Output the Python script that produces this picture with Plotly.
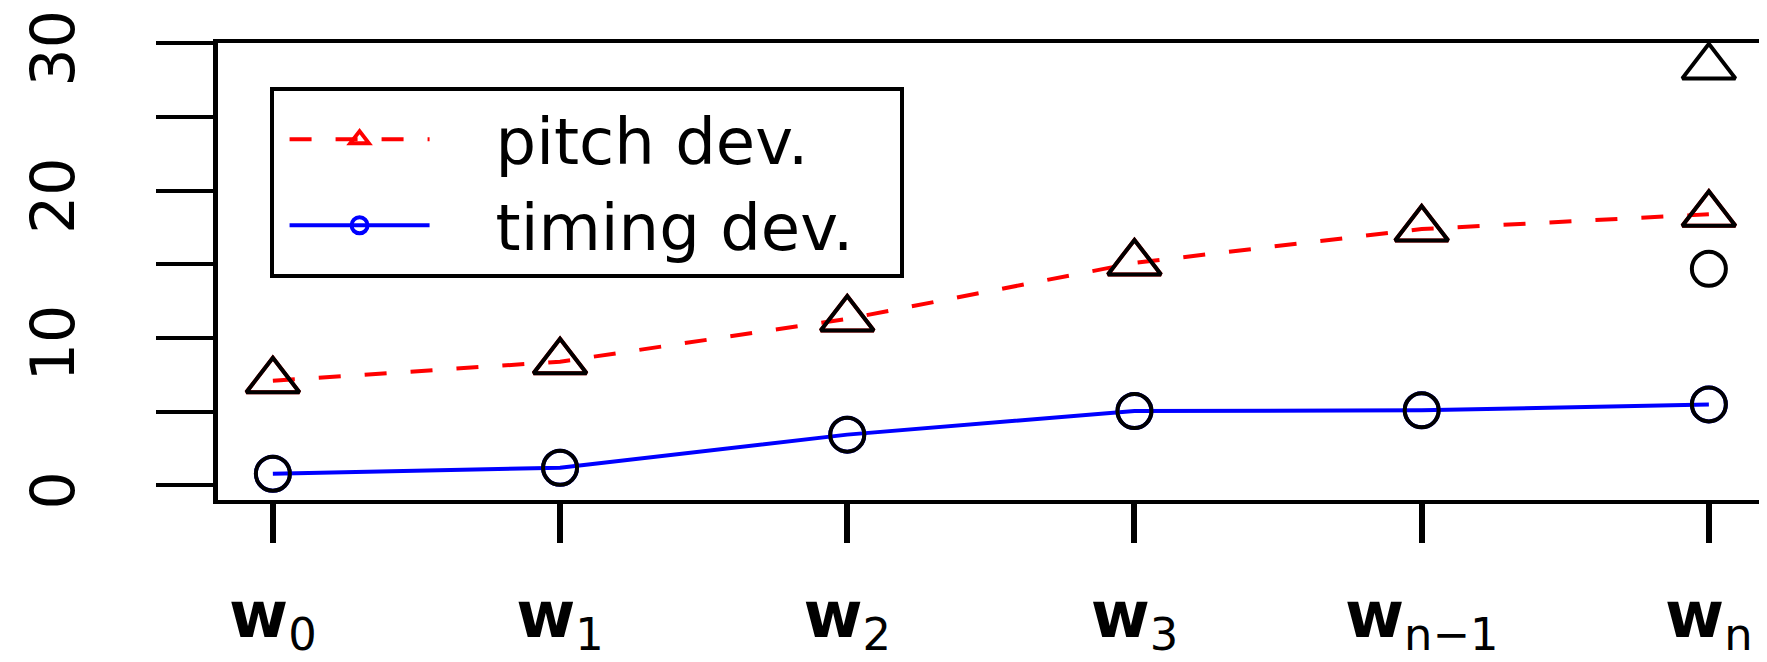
import plotly.graph_objects as go

# ---- data ----
categories = ["<b>w</b><sub>0</sub>", "<b>w</b><sub>1</sub>", "<b>w</b><sub>2</sub>",
              "<b>w</b><sub>3</sub>", "<b>w</b><sub>n\u22121</sub>", "<b>w</b><sub>n</sub>"]
pitch_dev = [7.1, 8.4, 11.3, 15.1, 17.4, 18.4]
timing_dev = [0.8, 1.2, 3.45, 5.05, 5.1, 5.5]
extra_category = ["<b>w</b><sub>n</sub>"]
pitch_extra = [28.4]
timing_extra = [14.7]
y_label_values = [0, 10, 20, 30]
y_label_text = ["0", "10", "20", "30"]
y_minor_values = [5, 15, 25]

FONT = "DejaVu Sans"
NB = "\u00a0"
x_pos = list(range(len(categories)))
x_extra = [categories.index(c) for c in extra_category]

TRI = 46
CIR = 34

fig = go.Figure()

# coloured series (these also provide the legend entries)
fig.add_trace(go.Scatter(
    x=x_pos, y=pitch_dev, name=NB * 3 + "pitch dev." + NB * 2, mode="lines+markers",
    line=dict(color="#FF0000", width=4, dash="22px,24px"),
    marker=dict(symbol="triangle-up-open", size=TRI, color="#FF0000", line=dict(width=4)),
))
fig.add_trace(go.Scatter(
    x=x_pos, y=timing_dev, name=NB * 3 + "timing dev." + NB * 2, mode="lines+markers",
    line=dict(color="#0000FF", width=4),
    marker=dict(symbol="circle-open", size=CIR, color="#0000FF", line=dict(width=4)),
))
# black point symbols drawn on top of the coloured ones
fig.add_trace(go.Scatter(
    x=x_pos + x_extra, y=pitch_dev + pitch_extra, mode="markers", showlegend=False,
    marker=dict(symbol="triangle-up-open", size=TRI, color="black", line=dict(width=4)),
))
fig.add_trace(go.Scatter(
    x=x_pos + x_extra, y=timing_dev + timing_extra, mode="markers", showlegend=False,
    marker=dict(symbol="circle-open", size=CIR, color="black", line=dict(width=4)),
))

fig.update_layout(
    width=1759, height=654,
    margin=dict(l=210, r=5, t=35, b=162, pad=0, autoexpand=False),
    paper_bgcolor="white", plot_bgcolor="white",
    font=dict(family=FONT, color="black"),
    showlegend=True,
    legend=dict(
        x=0.0334, y=0.9036, xanchor="left", yanchor="top",
        bgcolor="white", bordercolor="black", borderwidth=4,
        font=dict(family=FONT, size=64, color="black"),
        itemwidth=140, indentation=11,
    ),
    xaxis=dict(
        range=[-0.191, 5.185], automargin=False,
        tickmode="array", tickvals=x_pos, ticktext=categories,
        showgrid=False, zeroline=False,
        showline=True, linecolor="black", linewidth=4, mirror=True,
        ticks="outside", ticklen=39, tickwidth=6, tickcolor="black",
        tickfont=dict(family=FONT, size=64, color="black"),
        ticklabelstandoff=17, ticklabeloverflow="allow",
    ),
    yaxis=dict(
        range=[-0.985, 30.02], automargin=False,
        tickmode="array", tickvals=y_label_values, ticktext=y_label_text,
        showgrid=False, zeroline=False,
        showline=True, linecolor="black", linewidth=5, mirror=True,
        ticks="outside", ticklen=57, tickwidth=4, tickcolor="black",
        minor=dict(tickmode="array", tickvals=y_minor_values, ticks="outside",
                   ticklen=57, tickwidth=4, tickcolor="black", showgrid=False),
        tickangle=-90,
        tickfont=dict(family=FONT, size=60, color="black"),
        ticklabelstandoff=58, ticklabelshift=14, ticklabeloverflow="allow",
    ),
)

fig.write_html("out.html")
